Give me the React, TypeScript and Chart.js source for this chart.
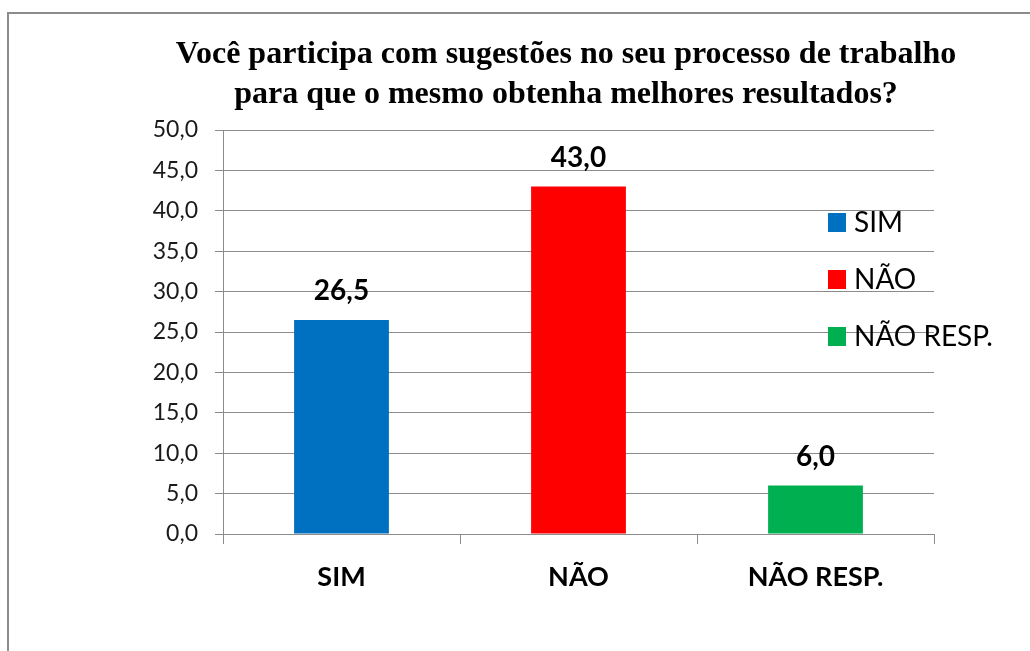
import React, { useEffect, useRef } from "react";
import { Chart, registerables } from "chart.js";

Chart.register(...registerables);

const categories = ["SIM", "NÃO", "NÃO RESP."];
const values = [26.5, 43.0, 6.0];
const barColors = ["#0070C0", "#FF0000", "#00B050"];
const legendLabels = ["SIM", "NÃO", "NÃO RESP."];
const titleLines = [
  "Você participa com sugestões no seu processo de trabalho",
  "para que o mesmo obtenha melhores resultados?",
];
const yMin = 0;
const yMax = 50;
const yStep = 5;

const fmt = (v: number) => v.toFixed(1).replace(".", ",");

const frameAndTitle = {
  id: "frameAndTitle",
  beforeDraw(chart: any) {
    const ctx = chart.ctx;
    ctx.save();
    ctx.fillStyle = "#ffffff";
    ctx.fillRect(0, 0, chart.width, chart.height);
    ctx.strokeStyle = "#8c8c8c";
    ctx.lineWidth = 2;
    ctx.beginPath();
    ctx.moveTo(8, chart.height + 2);
    ctx.lineTo(8, 13);
    ctx.lineTo(chart.width + 2, 13);
    ctx.stroke();
    ctx.fillStyle = "#000000";
    ctx.font = "bold 32px 'Liberation Serif', 'Times New Roman', serif";
    ctx.textAlign = "center";
    ctx.textBaseline = "alphabetic";
    const cx = 566;
    titleLines.forEach((line, i) => {
      ctx.fillText(line, cx, 63 + i * 40);
    });
    ctx.restore();
  },
};

const labelsAndLegend = {
  id: "labelsAndLegend",
  afterDatasetsDraw(chart: any) {
    const ctx = chart.ctx;
    const meta = chart.getDatasetMeta(0);
    ctx.save();
    ctx.fillStyle = "#000000";
    ctx.font = "bold 28px Lato, sans-serif";
    ctx.textAlign = "center";
    ctx.textBaseline = "alphabetic";
    meta.data.forEach((bar: any, i: number) => {
      ctx.fillText(fmt(values[i]), bar.x, bar.y - 20);
    });
    // legend
    const area = chart.chartArea;
    const lx = area.right - 106;
    ctx.font = "28px Lato, sans-serif";
    ctx.textAlign = "left";
    legendLabels.forEach((lab, i) => {
      const cy = area.top + 92 + i * 57;
      ctx.fillStyle = barColors[i];
      ctx.fillRect(lx, cy - 9, 18, 19);
      ctx.fillStyle = "#000000";
      ctx.fillText(lab, lx + 26, cy + 10);
    });
    ctx.restore();
  },
};

export default function App() {
  const ref = useRef<HTMLCanvasElement | null>(null);
  useEffect(() => {
    if (!ref.current) return;
    const chart = new Chart(ref.current, {
      type: "bar",
      data: {
        labels: categories,
        datasets: [
          {
            data: values,
            backgroundColor: barColors,
            borderWidth: 0,
            categoryPercentage: 1,
            barPercentage: 0.4,
          },
        ],
      },
      options: {
        responsive: false,
        animation: false,
        layout: { padding: { top: 130, left: 0, right: 96, bottom: 0 } },
        plugins: {
          legend: { display: false },
          title: { display: false },
          tooltip: { enabled: false },
        },
        scales: {
          x: {
            afterFit: (s: any) => {
              s.height = 117;
            },
            grid: {
              offset: true,
              drawOnChartArea: false,
              drawTicks: true,
              tickLength: 10,
              color: "#8c8c8c",
            },
            border: { display: true, color: "#8c8c8c", width: 1 },
            ticks: {
              color: "#000000",
              padding: 17,
              font: { family: "Lato, sans-serif", size: 27, weight: "bold" },
            },
          },
          y: {
            min: yMin,
            max: yMax,
            afterFit: (s: any) => {
              s.width = 223;
            },
            grid: {
              color: "#8c8c8c",
              tickLength: 8,
              lineWidth: 1,
            },
            border: { display: true, color: "#8c8c8c", width: 1 },
            ticks: {
              stepSize: yStep,
              padding: 17,
              color: "#1a1a1a",
              font: { family: "Lato, sans-serif", size: 23 },
              callback: (v: any) => fmt(Number(v)),
            },
          },
        },
      },
      plugins: [frameAndTitle, labelsAndLegend],
    });
    return () => chart.destroy();
  }, []);
  return (
    <div style={{ position: "fixed", left: 0, top: 0, width: 1030, height: 651, background: "#fff" }}>
      <canvas ref={ref} width={1030} height={651} style={{ display: "block" }} />
    </div>
  );
}
